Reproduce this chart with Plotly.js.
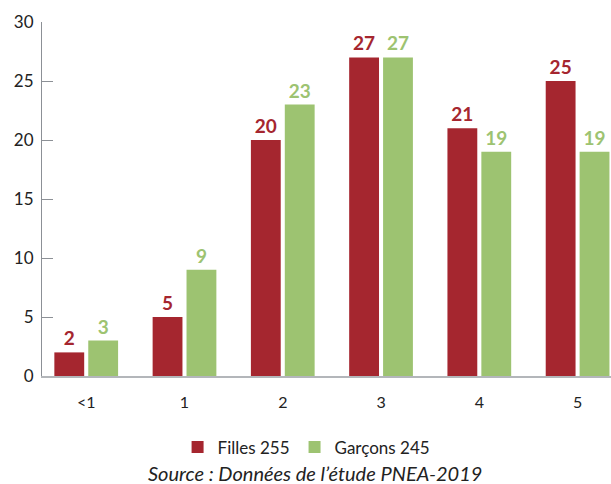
<!DOCTYPE html>
<html>
<head>
<meta charset="utf-8">
<script src="https://cdn.plot.ly/plotly-3.0.1.min.js"></script>
<style>html,body{margin:0;padding:0;background:#fff;}#chart{width:611px;height:484px;}</style>
</head>
<body>
<div id="chart"></div>
<script>
const categories = ["<1", "1", "2", "3", "4", "5"];
const filles = [2, 5, 20, 27, 21, 25];
const garcons = [3, 9, 23, 27, 19, 19];
const seriesNames = ["Filles 255", "Garçons 245"];
const yTicks = [0, 5, 10, 15, 20, 25, 30];
const sourceText = "Source : Données de l’étude PNEA-2019";

const FONT = "Lato, 'Open Sans', sans-serif";
const RED = "#A5262F";
const GREEN = "#9DC371";

const traces = [
  {type: "bar", name: seriesNames[0], x: categories, y: filles, marker: {color: RED},
   text: filles.map(String), textposition: "outside", cliponaxis: false,
   textfont: {family: FONT, size: 19, color: RED, weight: "bold"}},
  {type: "bar", name: seriesNames[1], x: categories, y: garcons, marker: {color: GREEN},
   text: garcons.map(String), textposition: "outside", cliponaxis: false,
   textfont: {family: FONT, size: 19, color: GREEN, weight: "bold"}}
];

const layout = {
  width: 611, height: 484,
  margin: {l: 42, r: 0, t: 22, b: 108},
  paper_bgcolor: "#fff", plot_bgcolor: "#fff",
  font: {family: FONT, size: 15, color: "#222"},
  barmode: "group", bargap: 0.31, bargroupgap: 0.12,
  showlegend: true,
  legend: {orientation: "h", x: 0.465, xanchor: "center", y: -0.202, yanchor: "middle",
           font: {family: FONT, size: 17, color: "#222"}, itemwidth: 30},
  xaxis: {type: "category", range: [-0.45, 5.34], showline: true, linecolor: "#B3B6BA", linewidth: 2,
          ticks: "", showgrid: false, tickfont: {family: FONT, size: 16, color: "#222"}, ticklabelstandoff: 11},
  yaxis: {range: [0, 30], tickvals: yTicks, showline: true, linecolor: "#8C9096", linewidth: 1,
          ticks: "inside", ticklen: 11, tickcolor: "#8C9096", showgrid: false, zeroline: false,
          tickfont: {family: FONT, size: 17, color: "#222"}, ticklabelstandoff: 4},
  annotations: [{text: sourceText, xref: "paper", yref: "paper", x: 0.48, y: -0.275,
                 xanchor: "center", yanchor: "middle", showarrow: false,
                 font: {family: FONT, size: 20, color: "#222", style: "italic"}}]
};

Plotly.newPlot("chart", traces, layout, {displayModeBar: false, staticPlot: true});
</script>
</body>
</html>
